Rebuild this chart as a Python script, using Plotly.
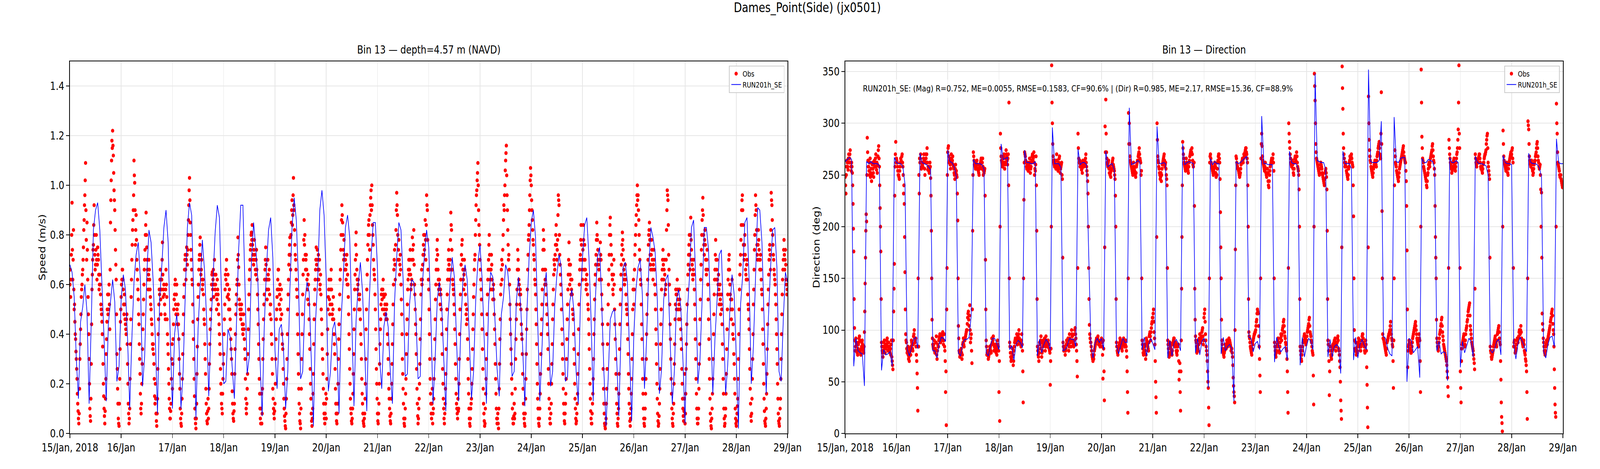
"""
Dames_Point(Side) (jx0501): Bin 13 流速/流向 观测 vs RUN201h_SE
"""
import pandas as pd
import plotly.graph_objects as go

# ==================== 数据 ====================

START = "2018-01-15 00:00"
END = "2018-01-29 00:00"

DAY_TICKS = [
    "2018-01-15", "2018-01-16", "2018-01-17", "2018-01-18", "2018-01-19",
    "2018-01-20", "2018-01-21", "2018-01-22", "2018-01-23", "2018-01-24",
    "2018-01-25", "2018-01-26", "2018-01-27", "2018-01-28", "2018-01-29",
]
DAY_LABELS = [
    "15/Jan, 2018", "16/Jan", "17/Jan", "18/Jan", "19/Jan", "20/Jan", "21/Jan",
    "22/Jan", "23/Jan", "24/Jan", "25/Jan", "26/Jan", "27/Jan", "28/Jan", "29/Jan",
]
SPEED_TICKS = [0.0, 0.2, 0.4, 0.6, 0.8, 1.0, 1.2, 1.4]
DIR_TICKS = [0, 50, 100, 150, 200, 250, 300, 350]

STATS_TEXT = ("RUN201h_SE: (Mag) R=0.752, ME=0.0055, RMSE=0.1583, CF=90.6% | "
              "(Dir) R=0.985, ME=2.17, RMSE=15.36, CF=88.9%")

# 模型：逐时
MODEL_SPEED = [
    0.68, 0.65, 0.55, 0.30, 0.14, 0.45, 0.51, 0.60, 0.49, 0.12, 0.45, 0.82, 0.90, 0.93, 0.82, 0.61, 0.38, 0.13, 0.44, 0.53, 0.62, 0.53, 0.21, 0.27,
    0.54, 0.64, 0.58, 0.38, 0.10, 0.38, 0.61, 0.72, 0.77, 0.62, 0.19, 0.31, 0.64, 0.82, 0.77, 0.61, 0.38, 0.08, 0.54, 0.67, 0.83, 0.90, 0.77, 0.38,
    0.10, 0.40, 0.48, 0.38, 0.10, 0.25, 0.56, 0.83, 0.93, 0.88, 0.54, 0.06, 0.42, 0.60, 0.78, 0.66, 0.46, 0.15, 0.42, 0.62, 0.81, 0.92, 0.87, 0.54,
    0.20, 0.21, 0.42, 0.39, 0.26, 0.14, 0.45, 0.74, 0.92, 0.92, 0.58, 0.24, 0.31, 0.69, 0.85, 0.75, 0.62, 0.30, 0.07, 0.43, 0.66, 0.82, 0.87, 0.71,
    0.34, 0.18, 0.42, 0.44, 0.34, 0.10, 0.25, 0.58, 0.83, 0.95, 0.86, 0.62, 0.22, 0.25, 0.53, 0.61, 0.57, 0.30, 0.03, 0.45, 0.62, 0.90, 0.98, 0.88,
    0.62, 0.17, 0.25, 0.42, 0.45, 0.35, 0.08, 0.46, 0.63, 0.83, 0.88, 0.79, 0.46, 0.11, 0.46, 0.60, 0.69, 0.57, 0.34, 0.09, 0.50, 0.71, 0.85, 0.85,
    0.66, 0.30, 0.18, 0.43, 0.49, 0.43, 0.25, 0.12, 0.53, 0.71, 0.85, 0.82, 0.62, 0.23, 0.24, 0.52, 0.62, 0.61, 0.48, 0.22, 0.23, 0.60, 0.72, 0.82,
    0.75, 0.46, 0.12, 0.30, 0.54, 0.61, 0.53, 0.30, 0.09, 0.46, 0.60, 0.71, 0.63, 0.38, 0.13, 0.42, 0.62, 0.68, 0.62, 0.38, 0.14, 0.25, 0.54, 0.69,
    0.76, 0.62, 0.38, 0.12, 0.52, 0.65, 0.63, 0.46, 0.26, 0.15, 0.48, 0.55, 0.68, 0.65, 0.54, 0.23, 0.25, 0.53, 0.63, 0.52, 0.34, 0.11, 0.50, 0.71,
    0.85, 0.90, 0.79, 0.46, 0.13, 0.34, 0.57, 0.65, 0.46, 0.19, 0.25, 0.52, 0.64, 0.72, 0.67, 0.46, 0.21, 0.23, 0.53, 0.58, 0.49, 0.25, 0.12, 0.53,
    0.71, 0.84, 0.87, 0.71, 0.46, 0.13, 0.54, 0.71, 0.75, 0.52, 0.25, 0.03, 0.22, 0.46, 0.49, 0.50, 0.30, 0.07, 0.40, 0.67, 0.69, 0.61, 0.34, 0.05,
    0.39, 0.58, 0.67, 0.70, 0.56, 0.18, 0.38, 0.66, 0.83, 0.79, 0.73, 0.54, 0.16, 0.26, 0.54, 0.62, 0.64, 0.38, 0.12, 0.25, 0.54, 0.58, 0.51, 0.30,
    0.04, 0.48, 0.62, 0.83, 0.86, 0.62, 0.20, 0.30, 0.54, 0.83, 0.83, 0.74, 0.46, 0.16, 0.38, 0.54, 0.72, 0.74, 0.46, 0.16, 0.28, 0.50, 0.64, 0.56,
    0.30, 0.02, 0.52, 0.64, 0.85, 0.87, 0.62, 0.20, 0.35, 0.62, 0.91, 0.90, 0.77, 0.46, 0.16, 0.46, 0.66, 0.82, 0.83, 0.67, 0.25, 0.21, 0.46, 0.65,
    0.61,
]

MODEL_DIR = [
    263, 265, 267, 265, 65, 92, 80, 78, 77, 46, 263, 261, 263, 261, 261, 261, 259, 61, 81, 76, 77, 79, 65, 267,
    262, 261, 261, 258, 241, 82, 75, 82, 91, 93, 82, 271, 262, 261, 260, 258, 255, 80, 80, 73, 87, 93, 92, 89,
    274, 263, 262, 258, 249, 78, 75, 87, 91, 91, 93, 114, 265, 261, 261, 261, 260, 256, 78, 75, 85, 92, 92, 87,
    81, 280, 265, 266, 267, 81, 85, 71, 86, 90, 88, 83, 274, 262, 262, 261, 261, 263, 75, 91, 78, 86, 91, 88,
    81, 296, 261, 261, 261, 257, 80, 81, 85, 92, 91, 91, 84, 275, 260, 262, 262, 260, 177, 88, 73, 88, 92, 88,
    92, 81, 273, 258, 260, 261, 255, 85, 77, 85, 92, 88, 88, 315, 260, 261, 262, 264, 262, 81, 93, 75, 86, 92,
    87, 81, 297, 261, 261, 262, 261, 73, 90, 75, 88, 91, 87, 80, 280, 260, 262, 263, 262, 261, 78, 92, 76, 89,
    92, 86, 44, 266, 260, 263, 261, 261, 77, 93, 80, 84, 86, 82, 31, 263, 261, 262, 264, 266, 268, 93, 92, 79,
    87, 89, 81, 307, 261, 261, 260, 260, 260, 69, 93, 84, 79, 82, 84, 71, 273, 262, 261, 261, 257, 66, 93, 74,
    85, 92, 89, 81, 348, 264, 263, 262, 262, 255, 74, 91, 74, 84, 86, 84, 58, 273, 261, 261, 261, 256, 71, 93,
    73, 86, 91, 85, 81, 352, 263, 262, 262, 262, 264, 302, 94, 92, 82, 77, 75, 306, 263, 262, 266, 267, 267, 50,
    92, 90, 78, 81, 84, 54, 266, 262, 262, 265, 264, 263, 256, 80, 89, 77, 79, 78, 51, 267, 262, 262, 264, 262,
    64, 89, 78, 85, 92, 89, 74, 268, 262, 261, 261, 260, 259, 250, 81, 78, 81, 89, 91, 76, 269, 262, 261, 261,
    260, 86, 72, 87, 93, 89, 84, 79, 271, 262, 261, 261, 260, 257, 248, 79, 73, 86, 93, 94, 84, 285, 262, 261,
    261,
]

# 观测 A：每 20 分钟（整点、:20、:40）
OBS_SPEED_A = [
    0.60, 0.55, 0.72, 0.93, 0.62, 0.82, 0.50, 0.45, 0.38, 0.30, 0.22, 0.12, 0.06, 0.08, 0.30, 0.42, 0.55, 0.60, 0.66, 0.75, 0.86, 0.96, 1.09, 0.78,
    0.85, 0.62, 0.48, 0.30, 0.10, 0.05, 0.28, 0.58, 0.70, 0.76, 0.92, 0.72, 0.68, 0.80, 0.62, 0.75, 0.70, 0.58, 0.64, 0.56, 0.50, 0.45, 0.35, 0.20,
    0.10, 0.04, 0.14, 0.32, 0.45, 0.56, 0.50, 0.60, 0.42, 0.85, 1.02, 1.18, 1.22, 1.12, 0.98, 0.90, 0.74, 0.62, 0.32, 0.18, 0.06, 0.03, 0.22, 0.45,
    0.55, 0.62, 0.66, 0.58, 0.48, 0.52, 0.44, 0.40, 0.48, 0.28, 0.12, 0.04, 0.10, 0.36, 0.55, 0.70, 0.82, 0.90, 1.10, 1.01, 0.76, 0.88, 0.70, 0.62,
    0.54, 0.44, 0.30, 0.16, 0.08, 0.20, 0.34, 0.48, 0.60, 0.70, 0.80, 0.89, 0.75, 0.66, 0.58, 0.70, 0.62, 0.55, 0.50, 0.44, 0.36, 0.36, 0.28, 0.15,
    0.20, 0.08, 0.03, 0.14, 0.40, 0.52, 0.56, 0.66, 0.48, 0.62, 0.77, 0.55, 0.60, 0.52, 0.46, 0.66, 0.55, 0.40, 0.32, 0.20, 0.10, 0.06, 0.12, 0.30,
    0.18, 0.38, 0.50, 0.56, 0.62, 0.48, 0.60, 0.44, 0.52, 0.38, 0.24, 0.10, 0.04, 0.08, 0.22, 0.40, 0.55, 0.66, 0.72, 0.62, 0.75, 0.68, 0.80, 0.92,
    1.03, 0.85, 0.74, 0.66, 0.60, 0.45, 0.30, 0.15, 0.06, 0.02, 0.12, 0.35, 0.55, 0.66, 0.72, 0.79, 0.64, 0.70, 0.58, 0.62, 0.50, 0.44, 0.30, 0.18,
    0.08, 0.04, 0.14, 0.10, 0.28, 0.42, 0.50, 0.60, 0.65, 0.62, 0.55, 0.70, 0.58, 0.64, 0.50, 0.62, 0.56, 0.48, 0.40, 0.32, 0.20, 0.12, 0.08, 0.22,
    0.32, 0.46, 0.58, 0.62, 0.70, 0.55, 0.64, 0.50, 0.58, 0.46, 0.38, 0.30, 0.17, 0.08, 0.05, 0.12, 0.34, 0.48, 0.56, 0.62, 0.79, 0.67, 0.54, 0.50,
    0.46, 0.52, 0.44, 0.40, 0.48, 0.38, 0.30, 0.14, 0.08, 0.18, 0.32, 0.50, 0.62, 0.70, 0.76, 0.81, 0.84, 0.72, 0.68, 0.78, 0.70, 0.64, 0.74, 0.62,
    0.50, 0.36, 0.22, 0.10, 0.04, 0.16, 0.08, 0.30, 0.46, 0.56, 0.66, 0.75, 0.62, 0.54, 0.70, 0.58, 0.66, 0.48, 0.52, 0.40, 0.30, 0.18, 0.10, 0.06,
    0.12, 0.30, 0.46, 0.55, 0.62, 0.66, 0.52, 0.60, 0.46, 0.58, 0.40, 0.34, 0.20, 0.10, 0.05, 0.02, 0.14, 0.30, 0.50, 0.62, 0.72, 0.79, 0.66, 0.85,
    0.94, 0.88, 1.03, 0.90, 0.76, 0.70, 0.62, 0.55, 0.40, 0.24, 0.12, 0.05, 0.02, 0.18, 0.40, 0.56, 0.70, 0.86, 0.80, 0.66, 0.72, 0.62, 0.54, 0.60,
    0.46, 0.34, 0.20, 0.08, 0.03, 0.10, 0.24, 0.46, 0.58, 0.66, 0.75, 0.70, 0.62, 0.72, 0.66, 0.58, 0.64, 0.50, 0.40, 0.30, 0.18, 0.08, 0.04, 0.12,
    0.06, 0.22, 0.42, 0.55, 0.62, 0.48, 0.58, 0.66, 0.52, 0.46, 0.55, 0.40, 0.32, 0.18, 0.08, 0.04, 0.12, 0.30, 0.44, 0.56, 0.66, 0.80, 0.92, 0.85,
    0.74, 0.78, 0.66, 0.70, 0.62, 0.72, 0.64, 0.55, 0.40, 0.26, 0.14, 0.08, 0.04, 0.10, 0.24, 0.42, 0.58, 0.70, 0.81, 0.66, 0.58, 0.62, 0.50, 0.56,
    0.46, 0.36, 0.22, 0.12, 0.05, 0.03, 0.08, 0.20, 0.42, 0.58, 0.70, 0.80, 0.86, 0.74, 0.92, 0.98, 1.00, 0.84, 0.76, 0.66, 0.62, 0.50, 0.34, 0.20,
    0.08, 0.04, 0.12, 0.28, 0.42, 0.52, 0.58, 0.50, 0.62, 0.55, 0.48, 0.56, 0.46, 0.52, 0.40, 0.30, 0.18, 0.10, 0.05, 0.08, 0.20, 0.36, 0.52, 0.66,
    0.74, 0.62, 0.82, 0.97, 0.88, 0.70, 0.78, 0.64, 0.72, 0.60, 0.48, 0.30, 0.18, 0.06, 0.03, 0.10, 0.22, 0.40, 0.52, 0.62, 0.70, 0.66, 0.74, 0.58,
    0.62, 0.79, 0.70, 0.82, 0.60, 0.50, 0.40, 0.26, 0.12, 0.04, 0.10, 0.20, 0.38, 0.56, 0.66, 0.62, 0.72, 0.80, 0.74, 0.86, 0.70, 0.96, 0.90, 0.66,
    0.58, 0.40, 0.22, 0.12, 0.06, 0.18, 0.08, 0.14, 0.30, 0.46, 0.60, 0.70, 0.78, 0.66, 0.58, 0.62, 0.52, 0.56, 0.46, 0.32, 0.20, 0.10, 0.04, 0.12,
    0.24, 0.42, 0.56, 0.66, 0.74, 0.62, 0.70, 0.89, 0.82, 0.66, 0.60, 0.56, 0.48, 0.36, 0.22, 0.12, 0.08, 0.14, 0.10, 0.30, 0.50, 0.62, 0.72, 0.78,
    0.66, 0.58, 0.70, 0.60, 0.52, 0.44, 0.46, 0.30, 0.16, 0.06, 0.03, 0.10, 0.14, 0.26, 0.42, 0.55, 0.66, 0.72, 0.86, 0.96, 1.02, 1.09, 0.90, 0.80,
    0.70, 0.62, 0.54, 0.42, 0.26, 0.12, 0.05, 0.04, 0.16, 0.30, 0.48, 0.62, 0.70, 0.80, 0.66, 0.58, 0.72, 0.62, 0.54, 0.60, 0.48, 0.36, 0.22, 0.10,
    0.04, 0.08, 0.02, 0.18, 0.38, 0.56, 0.66, 0.62, 0.74, 0.86, 0.90, 1.00, 1.10, 1.16, 0.96, 0.82, 0.70, 0.66, 0.52, 0.40, 0.28, 0.16, 0.06, 0.04,
    0.12, 0.08, 0.30, 0.46, 0.58, 0.74, 0.66, 0.60, 0.52, 0.56, 0.44, 0.38, 0.24, 0.12, 0.06, 0.03, 0.14, 0.32, 0.50, 0.66, 0.78, 0.84, 0.96, 1.07,
    1.00, 0.90, 0.82, 0.76, 0.70, 0.62, 0.56, 0.44, 0.28, 0.14, 0.06, 0.03, 0.10, 0.24, 0.40, 0.52, 0.66, 0.82, 0.74, 0.60, 0.66, 0.56, 0.48, 0.40,
    0.26, 0.14, 0.06, 0.04, 0.12, 0.28, 0.46, 0.58, 0.70, 0.66, 0.76, 0.84, 0.70, 0.78, 0.96, 0.92, 0.72, 0.64, 0.56, 0.42, 0.30, 0.18, 0.08, 0.04,
    0.12, 0.22, 0.38, 0.52, 0.64, 0.77, 0.60, 0.68, 0.56, 0.62, 0.50, 0.46, 0.34, 0.20, 0.10, 0.04, 0.08, 0.16, 0.32, 0.52, 0.66, 0.72, 0.84, 0.70,
    0.62, 0.84, 0.70, 0.76, 0.66, 0.58, 0.64, 0.56, 0.50, 0.40, 0.26, 0.14, 0.06, 0.04, 0.12, 0.22, 0.40, 0.54, 0.64, 0.72, 0.85, 0.78, 0.70, 0.66,
    0.62, 0.77, 0.70, 0.56, 0.44, 0.26, 0.12, 0.04, 0.02, 0.06, 0.18, 0.36, 0.52, 0.66, 0.80, 0.87, 0.76, 0.68, 0.62, 0.56, 0.70, 0.50, 0.38, 0.24,
    0.12, 0.04, 0.06, 0.16, 0.34, 0.52, 0.64, 0.72, 0.81, 0.74, 0.66, 0.60, 0.68, 0.56, 0.50, 0.44, 0.32, 0.18, 0.08, 0.03, 0.10, 0.22, 0.40, 0.58,
    0.52, 0.66, 0.76, 0.84, 0.92, 1.00, 0.96, 0.86, 0.74, 0.66, 0.60, 0.44, 0.30, 0.16, 0.06, 0.03, 0.10, 0.22, 0.40, 0.56, 0.70, 0.80, 0.85, 0.72,
    0.66, 0.78, 0.70, 0.62, 0.74, 0.66, 0.56, 0.42, 0.28, 0.14, 0.05, 0.04, 0.12, 0.26, 0.44, 0.58, 0.66, 0.74, 0.62, 0.70, 0.56, 0.60, 0.82, 0.98,
    0.94, 0.72, 0.60, 0.44, 0.30, 0.16, 0.06, 0.03, 0.12, 0.28, 0.46, 0.58, 0.50, 0.62, 0.54, 0.46, 0.58, 0.50, 0.42, 0.34, 0.20, 0.10, 0.05, 0.14,
    0.04, 0.16, 0.36, 0.52, 0.64, 0.72, 0.80, 0.66, 0.87, 0.74, 0.68, 0.62, 0.70, 0.58, 0.46, 0.30, 0.16, 0.06, 0.04, 0.10, 0.28, 0.46, 0.62, 0.74,
    0.86, 0.95, 0.80, 0.72, 0.82, 0.70, 0.64, 0.74, 0.60, 0.46, 0.30, 0.14, 0.05, 0.02, 0.10, 0.22, 0.40, 0.56, 0.66, 0.78, 0.62, 0.70, 0.56, 0.64,
    0.52, 0.60, 0.48, 0.56, 0.44, 0.30, 0.16, 0.06, 0.04, 0.10, 0.24, 0.42, 0.56, 0.66, 0.72, 0.60, 0.54, 0.46, 0.62, 0.40, 0.38, 0.28, 0.16, 0.06,
    0.03, 0.08, 0.14, 0.30, 0.50, 0.64, 0.72, 0.84, 0.94, 0.90, 0.76, 0.70, 0.80, 0.66, 0.62, 0.70, 0.56, 0.50, 0.42, 0.26, 0.12, 0.05, 0.14, 0.30,
    0.52, 0.66, 0.80, 0.96, 0.90, 0.76, 0.70, 0.82, 0.74, 0.66, 0.72, 0.62, 0.56, 0.42, 0.28, 0.14, 0.05, 0.03, 0.10, 0.24, 0.44, 0.58, 0.70, 0.76,
    0.66, 0.97, 0.92, 0.80, 0.72, 0.66, 0.62, 0.56, 0.46, 0.34, 0.20, 0.08, 0.04, 0.06, 0.14, 0.30, 0.48, 0.62, 0.70, 0.78, 0.66, 0.74, 0.62, 0.56,
]

# 观测 B：每 20 分钟（:10、:30、:50）
OBS_SPEED_B = [
    0.66, 0.62, 0.80, 0.74, 0.70, 0.58, 0.52, 0.40, 0.33, 0.26, 0.16, 0.09, 0.04, 0.18, 0.36, 0.48, 0.58, 0.64, 0.70, 0.82, 0.92, 1.02, 0.90, 0.70,
    0.74, 0.55, 0.40, 0.20, 0.07, 0.14, 0.44, 0.64, 0.74, 0.84, 0.80, 0.66, 0.74, 0.70, 0.68, 0.72, 0.64, 0.60, 0.60, 0.52, 0.48, 0.40, 0.28, 0.15,
    0.07, 0.09, 0.22, 0.38, 0.50, 0.48, 0.56, 0.52, 0.66, 0.94, 1.10, 1.15, 1.16, 1.05, 0.94, 0.82, 0.68, 0.48, 0.26, 0.12, 0.04, 0.12, 0.34, 0.50,
    0.60, 0.66, 0.62, 0.52, 0.56, 0.46, 0.42, 0.46, 0.36, 0.20, 0.08, 0.06, 0.22, 0.46, 0.62, 0.76, 0.86, 0.96, 1.04, 0.90, 0.82, 0.78, 0.66, 0.58,
    0.48, 0.36, 0.24, 0.10, 0.12, 0.28, 0.42, 0.54, 0.66, 0.74, 0.84, 0.80, 0.70, 0.62, 0.64, 0.66, 0.58, 0.52, 0.46, 0.40, 0.34, 0.32, 0.22, 0.12,
    0.14, 0.05, 0.08, 0.26, 0.46, 0.58, 0.62, 0.54, 0.58, 0.70, 0.64, 0.58, 0.56, 0.48, 0.58, 0.60, 0.46, 0.36, 0.26, 0.14, 0.06, 0.09, 0.22, 0.36,
    0.28, 0.44, 0.54, 0.60, 0.52, 0.56, 0.50, 0.48, 0.44, 0.30, 0.18, 0.06, 0.03, 0.14, 0.32, 0.48, 0.60, 0.70, 0.66, 0.70, 0.72, 0.74, 0.86, 0.98,
    0.94, 0.80, 0.70, 0.62, 0.52, 0.38, 0.22, 0.10, 0.04, 0.06, 0.24, 0.46, 0.60, 0.70, 0.76, 0.72, 0.66, 0.62, 0.60, 0.56, 0.46, 0.36, 0.24, 0.12,
    0.05, 0.09, 0.06, 0.18, 0.36, 0.46, 0.54, 0.64, 0.58, 0.66, 0.60, 0.64, 0.60, 0.56, 0.54, 0.58, 0.52, 0.44, 0.36, 0.26, 0.16, 0.10, 0.16, 0.28,
    0.40, 0.52, 0.64, 0.66, 0.60, 0.60, 0.56, 0.54, 0.50, 0.42, 0.34, 0.24, 0.12, 0.06, 0.09, 0.24, 0.40, 0.52, 0.60, 0.70, 0.72, 0.60, 0.52, 0.48,
    0.50, 0.48, 0.42, 0.44, 0.42, 0.34, 0.22, 0.10, 0.12, 0.24, 0.42, 0.56, 0.66, 0.74, 0.80, 0.78, 0.76, 0.70, 0.74, 0.72, 0.66, 0.70, 0.66, 0.56,
    0.44, 0.30, 0.16, 0.06, 0.10, 0.04, 0.18, 0.38, 0.52, 0.62, 0.70, 0.68, 0.58, 0.62, 0.64, 0.62, 0.56, 0.52, 0.46, 0.36, 0.24, 0.14, 0.08, 0.09,
    0.20, 0.38, 0.50, 0.58, 0.66, 0.58, 0.56, 0.50, 0.54, 0.48, 0.36, 0.26, 0.14, 0.07, 0.03, 0.08, 0.22, 0.40, 0.56, 0.68, 0.76, 0.72, 0.80, 0.90,
    0.84, 0.96, 0.92, 0.82, 0.72, 0.66, 0.58, 0.48, 0.32, 0.18, 0.08, 0.04, 0.10, 0.30, 0.48, 0.64, 0.78, 0.76, 0.72, 0.70, 0.66, 0.58, 0.64, 0.52,
    0.40, 0.26, 0.14, 0.05, 0.06, 0.16, 0.36, 0.52, 0.62, 0.70, 0.68, 0.74, 0.66, 0.62, 0.70, 0.60, 0.56, 0.46, 0.34, 0.24, 0.12, 0.06, 0.08, 0.16,
    0.14, 0.32, 0.50, 0.58, 0.54, 0.52, 0.62, 0.58, 0.48, 0.50, 0.46, 0.36, 0.26, 0.12, 0.05, 0.08, 0.20, 0.38, 0.50, 0.62, 0.74, 0.86, 0.88, 0.80,
    0.70, 0.72, 0.70, 0.66, 0.68, 0.60, 0.60, 0.48, 0.34, 0.20, 0.10, 0.05, 0.06, 0.16, 0.32, 0.50, 0.64, 0.76, 0.72, 0.62, 0.60, 0.56, 0.54, 0.50,
    0.40, 0.30, 0.16, 0.08, 0.04, 0.06, 0.14, 0.30, 0.50, 0.64, 0.76, 0.84, 0.80, 0.88, 0.95, 0.90, 0.92, 0.80, 0.70, 0.64, 0.56, 0.42, 0.26, 0.14,
    0.05, 0.08, 0.20, 0.36, 0.46, 0.56, 0.54, 0.58, 0.56, 0.50, 0.52, 0.48, 0.50, 0.46, 0.36, 0.24, 0.14, 0.07, 0.04, 0.14, 0.28, 0.44, 0.60, 0.70,
    0.68, 0.76, 0.90, 0.92, 0.80, 0.74, 0.70, 0.68, 0.66, 0.54, 0.40, 0.24, 0.12, 0.04, 0.06, 0.16, 0.32, 0.46, 0.58, 0.66, 0.64, 0.70, 0.64, 0.60,
    0.70, 0.74, 0.76, 0.68, 0.56, 0.44, 0.32, 0.18, 0.07, 0.06, 0.14, 0.28, 0.46, 0.62, 0.60, 0.68, 0.76, 0.72, 0.80, 0.78, 0.84, 0.92, 0.78, 0.62,
    0.50, 0.30, 0.16, 0.08, 0.12, 0.04, 0.10, 0.22, 0.38, 0.54, 0.66, 0.74, 0.72, 0.62, 0.60, 0.56, 0.58, 0.50, 0.40, 0.26, 0.14, 0.06, 0.08, 0.18,
    0.34, 0.50, 0.62, 0.70, 0.68, 0.66, 0.78, 0.84, 0.74, 0.62, 0.58, 0.52, 0.42, 0.28, 0.16, 0.10, 0.06, 0.09, 0.20, 0.40, 0.56, 0.68, 0.76, 0.70,
    0.62, 0.64, 0.66, 0.56, 0.48, 0.50, 0.38, 0.22, 0.10, 0.04, 0.06, 0.12, 0.20, 0.34, 0.48, 0.60, 0.70, 0.80, 0.92, 0.98, 1.05, 1.00, 0.84, 0.76,
    0.66, 0.58, 0.48, 0.34, 0.18, 0.08, 0.03, 0.10, 0.22, 0.40, 0.56, 0.66, 0.76, 0.72, 0.62, 0.66, 0.68, 0.58, 0.58, 0.54, 0.42, 0.28, 0.16, 0.06,
    0.06, 0.04, 0.10, 0.28, 0.46, 0.60, 0.70, 0.68, 0.80, 0.92, 0.96, 1.06, 1.13, 1.04, 0.90, 0.76, 0.72, 0.60, 0.46, 0.34, 0.22, 0.10, 0.04, 0.07,
    0.06, 0.18, 0.38, 0.52, 0.66, 0.70, 0.62, 0.56, 0.58, 0.50, 0.40, 0.32, 0.18, 0.08, 0.04, 0.08, 0.22, 0.42, 0.58, 0.72, 0.80, 0.90, 1.02, 1.04,
    0.94, 0.86, 0.78, 0.72, 0.66, 0.60, 0.50, 0.36, 0.20, 0.10, 0.04, 0.06, 0.16, 0.32, 0.46, 0.58, 0.74, 0.78, 0.66, 0.62, 0.60, 0.52, 0.44, 0.34,
    0.20, 0.10, 0.04, 0.08, 0.20, 0.36, 0.52, 0.64, 0.68, 0.72, 0.80, 0.76, 0.74, 0.88, 0.94, 0.80, 0.68, 0.60, 0.50, 0.36, 0.24, 0.12, 0.05, 0.08,
    0.16, 0.30, 0.46, 0.58, 0.70, 0.68, 0.64, 0.62, 0.58, 0.56, 0.48, 0.40, 0.28, 0.14, 0.06, 0.05, 0.12, 0.24, 0.42, 0.60, 0.70, 0.78, 0.76, 0.66,
    0.74, 0.78, 0.66, 0.70, 0.62, 0.60, 0.60, 0.52, 0.46, 0.34, 0.20, 0.09, 0.04, 0.08, 0.16, 0.30, 0.46, 0.60, 0.68, 0.78, 0.80, 0.74, 0.68, 0.62,
    0.70, 0.72, 0.62, 0.50, 0.36, 0.18, 0.08, 0.03, 0.04, 0.12, 0.26, 0.44, 0.60, 0.72, 0.84, 0.80, 0.72, 0.64, 0.58, 0.64, 0.60, 0.44, 0.30, 0.18,
    0.08, 0.03, 0.10, 0.24, 0.44, 0.58, 0.68, 0.76, 0.78, 0.70, 0.62, 0.64, 0.62, 0.52, 0.48, 0.38, 0.24, 0.12, 0.05, 0.06, 0.16, 0.30, 0.50, 0.62,
    0.58, 0.72, 0.80, 0.88, 0.96, 0.94, 0.90, 0.80, 0.70, 0.62, 0.52, 0.38, 0.22, 0.10, 0.04, 0.06, 0.16, 0.30, 0.48, 0.62, 0.76, 0.82, 0.78, 0.68,
    0.72, 0.74, 0.66, 0.68, 0.70, 0.60, 0.50, 0.36, 0.20, 0.08, 0.03, 0.07, 0.18, 0.36, 0.50, 0.62, 0.70, 0.68, 0.66, 0.64, 0.58, 0.70, 0.90, 0.96,
    0.84, 0.66, 0.52, 0.38, 0.22, 0.10, 0.04, 0.08, 0.20, 0.36, 0.52, 0.56, 0.56, 0.58, 0.50, 0.52, 0.54, 0.46, 0.38, 0.26, 0.14, 0.07, 0.09, 0.24,
    0.08, 0.26, 0.44, 0.58, 0.68, 0.76, 0.72, 0.80, 0.78, 0.70, 0.64, 0.66, 0.64, 0.52, 0.38, 0.22, 0.10, 0.04, 0.06, 0.18, 0.36, 0.54, 0.68, 0.80,
    0.90, 0.88, 0.76, 0.78, 0.76, 0.66, 0.70, 0.66, 0.54, 0.38, 0.22, 0.08, 0.03, 0.06, 0.16, 0.30, 0.48, 0.62, 0.72, 0.70, 0.66, 0.62, 0.60, 0.58,
    0.56, 0.54, 0.52, 0.50, 0.36, 0.22, 0.10, 0.03, 0.07, 0.16, 0.34, 0.50, 0.62, 0.70, 0.66, 0.56, 0.50, 0.54, 0.50, 0.44, 0.32, 0.22, 0.10, 0.04,
    0.05, 0.11, 0.22, 0.40, 0.58, 0.68, 0.78, 0.90, 0.96, 0.84, 0.72, 0.76, 0.72, 0.64, 0.68, 0.62, 0.52, 0.46, 0.34, 0.18, 0.07, 0.08, 0.22, 0.40,
    0.58, 0.74, 0.88, 0.92, 0.82, 0.72, 0.76, 0.78, 0.70, 0.70, 0.66, 0.58, 0.50, 0.36, 0.20, 0.09, 0.04, 0.06, 0.16, 0.34, 0.52, 0.64, 0.74, 0.72,
    0.82, 0.94, 0.86, 0.76, 0.70, 0.64, 0.60, 0.52, 0.40, 0.28, 0.14, 0.05, 0.03, 0.10, 0.22, 0.40, 0.56, 0.66, 0.74, 0.72, 0.70, 0.68, 0.60, 0.58,
]

OBS_DIR_A = [
    248, 232, 258, 262, 255, 270, 266, 274, 258, 262, 252, 222, 176, 102, 80, 92, 86, 78, 82, 88, 94, 80, 76, 84,
    90, 82, 78, 98, 145, 196, 205, 286, 264, 258, 250, 266, 252, 244, 260, 256, 248, 264, 262, 270, 255, 252, 268, 278,
    258, 218, 176, 88, 80, 74, 84, 90, 78, 82, 86, 92, 80, 88, 84, 78, 76, 90, 70, 62, 118, 164, 258, 282,
    266, 262, 254, 250, 246, 258, 266, 262, 270, 258, 232, 222, 156, 96, 88, 78, 84, 72, 70, 82, 76, 90, 86, 80,
    94, 100, 88, 92, 76, 58, 22, 84, 232, 262, 270, 256, 262, 258, 266, 264, 250, 270, 262, 276, 255, 258, 252, 262,
    247, 196, 110, 86, 82, 90, 78, 80, 94, 72, 86, 84, 92, 96, 88, 90, 94, 98, 86, 96, 80, 40, 8, 160,
    272, 278, 262, 266, 256, 270, 262, 268, 258, 252, 246, 260, 254, 248, 206, 104, 80, 74, 76, 82, 72, 86, 92, 84,
    90, 94, 98, 100, 112, 118, 104, 124, 88, 96, 68, 196, 272, 264, 262, 256, 258, 264, 260, 254, 250, 258, 262, 266,
    256, 266, 250, 252, 256, 168, 90, 76, 80, 72, 76, 84, 84, 78, 92, 88, 94, 80, 80, 86, 78, 76, 90, 84,
    40, 12, 290, 268, 262, 258, 266, 270, 256, 262, 274, 268, 260, 270, 320, 88, 78, 70, 74, 82, 66, 80, 88, 92,
    90, 96, 86, 92, 100, 88, 86, 84, 96, 80, 30, 226, 272, 268, 262, 256, 262, 254, 260, 266, 252, 258, 264, 270,
    266, 272, 250, 254, 268, 196, 84, 76, 70, 88, 82, 94, 74, 80, 90, 86, 92, 80, 94, 88, 84, 90, 86, 80,
    47, 82, 356, 300, 268, 262, 258, 264, 256, 270, 260, 254, 262, 268, 252, 258, 262, 246, 88, 80, 84, 76, 82, 90,
    86, 92, 80, 96, 90, 84, 100, 94, 88, 84, 96, 102, 92, 80, 55, 290, 266, 262, 258, 262, 255, 252, 264, 258,
    262, 260, 270, 258, 250, 232, 160, 105, 92, 88, 80, 74, 70, 72, 80, 84, 88, 92, 90, 94, 86, 88, 84, 90,
    92, 84, 53, 82, 32, 297, 323, 272, 262, 258, 264, 252, 250, 248, 256, 262, 266, 258, 254, 246, 200, 88, 80, 76,
    82, 86, 92, 90, 84, 80, 88, 92, 86, 84, 90, 80, 60, 20, 310, 300, 268, 262, 258, 254, 250, 262, 256, 252,
    248, 258, 262, 264, 270, 276, 266, 262, 254, 90, 82, 76, 80, 86, 72, 92, 88, 84, 80, 94, 98, 90, 102, 108,
    112, 120, 98, 86, 50, 20, 300, 268, 262, 256, 250, 248, 244, 256, 262, 266, 270, 258, 262, 250, 240, 90, 82, 74,
    88, 84, 80, 76, 86, 90, 92, 84, 88, 80, 76, 84, 86, 52, 68, 22, 90, 190, 282, 270, 262, 258, 254, 266,
    260, 256, 252, 262, 268, 272, 270, 276, 264, 258, 262, 140, 94, 88, 78, 84, 80, 90, 96, 88, 92, 98, 102, 86,
    112, 120, 96, 84, 76, 60, 44, 8, 262, 270, 262, 258, 254, 250, 256, 262, 258, 248, 250, 262, 268, 270, 262, 214,
    150, 90, 82, 78, 74, 80, 86, 82, 90, 84, 88, 92, 90, 86, 80, 82, 74, 54, 40, 30, 178, 268, 262, 258,
    256, 252, 248, 252, 260, 262, 266, 262, 270, 268, 274, 276, 270, 262, 200, 98, 92, 84, 80, 76, 88, 90, 94, 96,
    98, 104, 110, 120, 116, 94, 72, 40, 266, 290, 268, 262, 258, 254, 262, 252, 248, 256, 244, 238, 250, 258, 262, 266,
    262, 270, 254, 88, 80, 74, 80, 86, 92, 84, 78, 88, 96, 90, 100, 104, 110, 98, 92, 86, 80, 60, 20, 300,
    282, 270, 262, 258, 264, 256, 250, 262, 268, 264, 272, 262, 256, 250, 200, 84, 76, 70, 80, 88, 90, 96, 92, 86,
    90, 98, 102, 106, 112, 98, 94, 88, 80, 76, 28, 348, 322, 280, 266, 262, 258, 254, 250, 256, 262, 258, 252, 248,
    244, 240, 252, 256, 248, 196, 90, 80, 37, 84, 76, 72, 80, 86, 84, 90, 92, 80, 86, 88, 94, 82, 76, 64,
    32, 14, 355, 314, 276, 266, 258, 262, 254, 250, 246, 256, 262, 268, 266, 270, 262, 258, 210, 100, 82, 88, 76, 80,
    86, 92, 84, 90, 80, 86, 94, 96, 88, 84, 78, 90, 80, 47, 6, 326, 284, 268, 262, 256, 252, 248, 256, 260,
    264, 262, 258, 268, 272, 278, 282, 270, 266, 330, 215, 96, 92, 88, 84, 80, 76, 88, 90, 94, 96, 100, 108, 96,
    90, 84, 44, 150, 274, 262, 258, 252, 248, 244, 252, 258, 262, 266, 270, 274, 278, 268, 264, 262, 244, 177, 64, 84,
    90, 86, 80, 78, 84, 92, 96, 100, 104, 108, 100, 92, 88, 84, 96, 90, 40, 352, 287, 266, 262, 256, 252, 248,
    244, 238, 250, 256, 262, 258, 266, 270, 274, 280, 268, 262, 250, 190, 150, 92, 84, 80, 88, 96, 100, 106, 112, 98,
    90, 84, 80, 76, 72, 66, 54, 36, 284, 270, 262, 258, 252, 256, 262, 266, 260, 254, 262, 270, 276, 294, 356, 276,
    60, 30, 82, 88, 92, 96, 84, 90, 100, 104, 110, 118, 122, 126, 104, 96, 88, 84, 80, 72, 62, 270, 262, 258,
    264, 262, 268, 270, 262, 256, 258, 252, 260, 262, 268, 270, 274, 284, 290, 262, 254, 246, 84, 78, 72, 76, 80, 86,
    90, 94, 88, 84, 96, 100, 104, 92, 86, 52, 16, 2, 293, 268, 262, 258, 254, 262, 256, 250, 260, 264, 268, 272,
    270, 276, 262, 84, 90, 78, 80, 86, 92, 88, 94, 100, 96, 104, 92, 88, 84, 90, 80, 76, 70, 60, 14, 302,
    294, 268, 262, 258, 264, 256, 250, 256, 262, 264, 270, 276, 282, 268, 262, 256, 260, 236, 233, 116, 100, 88, 80, 76,
    84, 90, 86, 92, 96, 100, 104, 110, 116, 120, 106, 96, 62, 28, 16, 319, 290, 262, 258, 254, 248, 250, 244, 240,
]

OBS_DIR_B = [
    240, 250, 264, 258, 266, 262, 270, 262, 254, 258, 240, 198, 130, 90, 84, 88, 80, 76, 86, 92, 90, 78, 82, 88,
    86, 80, 84, 118, 170, 212, 250, 272, 258, 254, 262, 248, 256, 250, 262, 252, 260, 258, 266, 258, 262, 260, 274, 266,
    240, 200, 130, 84, 78, 80, 88, 82, 86, 84, 90, 88, 84, 82, 80, 82, 86, 74, 66, 90, 140, 230, 270, 262,
    264, 258, 250, 248, 254, 262, 264, 268, 262, 250, 240, 190, 120, 90, 82, 80, 76, 74, 78, 80, 84, 88, 82, 86,
    96, 92, 90, 84, 70, 44, 150, 250, 266, 266, 262, 258, 260, 262, 270, 256, 262, 266, 270, 262, 258, 254, 256, 258,
    230, 150, 92, 84, 86, 80, 82, 88, 76, 80, 84, 90, 94, 90, 92, 96, 92, 90, 90, 84, 70, 60, 120, 250,
    276, 268, 264, 260, 264, 266, 264, 260, 256, 250, 256, 252, 250, 232, 150, 92, 78, 76, 80, 78, 76, 88, 86, 90,
    92, 96, 100, 106, 116, 110, 114, 100, 92, 80, 120, 250, 268, 260, 258, 262, 256, 260, 256, 252, 256, 260, 264, 262,
    262, 258, 254, 254, 230, 120, 84, 78, 76, 74, 80, 82, 80, 86, 88, 90, 86, 84, 82, 80, 84, 82, 86, 80,
    70, 200, 276, 264, 260, 262, 268, 262, 260, 266, 270, 264, 266, 240, 150, 84, 74, 72, 78, 76, 70, 84, 90, 88,
    92, 90, 94, 96, 92, 90, 88, 90, 86, 60, 150, 262, 270, 264, 258, 260, 258, 256, 262, 258, 256, 262, 268, 264,
    268, 262, 256, 260, 240, 130, 80, 74, 78, 86, 90, 88, 78, 84, 86, 88, 86, 84, 90, 86, 88, 86, 82, 78,
    70, 200, 320, 280, 264, 260, 262, 258, 260, 264, 256, 258, 266, 260, 256, 260, 250, 170, 84, 82, 80, 80, 86, 88,
    90, 86, 84, 92, 88, 90, 96, 90, 86, 90, 100, 96, 86, 70, 160, 276, 262, 264, 260, 258, 256, 258, 260, 262,
    264, 266, 262, 254, 244, 200, 130, 96, 88, 84, 76, 72, 74, 76, 82, 86, 90, 90, 92, 90, 88, 86, 88, 90,
    88, 76, 90, 60, 180, 272, 290, 266, 260, 262, 256, 258, 252, 254, 260, 264, 260, 256, 250, 230, 130, 84, 78, 80,
    84, 88, 90, 86, 82, 86, 90, 88, 84, 86, 84, 74, 40, 150, 280, 280, 264, 260, 256, 252, 256, 258, 254, 250,
    252, 260, 264, 268, 272, 270, 264, 250, 150, 86, 78, 78, 84, 80, 76, 90, 86, 82, 88, 96, 94, 98, 106, 112,
    116, 108, 92, 70, 35, 190, 284, 264, 258, 252, 246, 252, 250, 260, 264, 268, 264, 260, 256, 246, 160, 86, 78, 76,
    86, 82, 78, 80, 88, 92, 88, 86, 84, 78, 80, 86, 70, 60, 40, 60, 140, 240, 276, 266, 260, 256, 260, 262,
    258, 254, 258, 264, 270, 274, 272, 270, 260, 262, 220, 110, 90, 84, 80, 82, 86, 92, 92, 90, 94, 100, 94, 90,
    116, 108, 90, 80, 70, 50, 25, 150, 268, 266, 260, 256, 252, 254, 258, 260, 252, 250, 256, 264, 270, 266, 246, 180,
    110, 86, 80, 76, 78, 82, 84, 86, 88, 86, 90, 90, 88, 84, 82, 78, 66, 46, 36, 100, 240, 266, 260, 256,
    254, 250, 250, 256, 262, 264, 264, 266, 268, 272, 276, 272, 266, 240, 130, 94, 88, 82, 78, 82, 86, 92, 96, 98,
    100, 108, 116, 118, 104, 84, 56, 150, 280, 278, 264, 260, 256, 258, 256, 250, 252, 252, 240, 244, 254, 260, 264, 264,
    266, 262, 150, 84, 76, 78, 84, 90, 88, 80, 84, 92, 94, 96, 102, 108, 104, 94, 88, 82, 72, 40, 160, 290,
    276, 266, 260, 260, 260, 252, 256, 266, 266, 268, 268, 258, 254, 236, 130, 80, 72, 76, 84, 90, 94, 94, 88, 88,
    94, 100, 104, 110, 104, 96, 90, 84, 78, 56, 200, 336, 300, 272, 264, 260, 256, 252, 252, 260, 260, 256, 250, 246,
    242, 246, 254, 252, 236, 130, 86, 70, 60, 80, 74, 76, 84, 82, 88, 90, 86, 84, 88, 92, 90, 80, 70, 50,
    22, 180, 334, 290, 270, 262, 260, 258, 252, 248, 250, 258, 264, 266, 268, 266, 260, 240, 150, 90, 80, 82, 78, 84,
    88, 90, 86, 84, 84, 90, 96, 92, 86, 80, 84, 86, 64, 25, 180, 300, 274, 264, 258, 254, 250, 252, 258, 262,
    262, 260, 264, 270, 276, 280, 276, 268, 290, 280, 150, 92, 90, 86, 82, 78, 82, 90, 92, 96, 98, 104, 100, 92,
    86, 70, 90, 240, 268, 260, 254, 250, 246, 248, 256, 260, 264, 268, 272, 276, 272, 266, 262, 254, 220, 120, 80, 86,
    88, 82, 78, 80, 88, 94, 98, 102, 106, 104, 96, 90, 86, 90, 92, 70, 200, 320, 276, 264, 258, 254, 250, 246,
    240, 244, 252, 260, 260, 262, 268, 272, 278, 274, 264, 256, 220, 170, 110, 88, 82, 84, 92, 98, 104, 110, 104, 94,
    86, 82, 78, 74, 70, 60, 45, 160, 276, 266, 260, 256, 254, 258, 264, 262, 256, 258, 266, 272, 284, 320, 290, 160,
    44, 70, 86, 90, 94, 90, 86, 96, 102, 108, 114, 120, 124, 114, 100, 92, 86, 82, 76, 68, 140, 266, 260, 262,
    262, 266, 270, 266, 258, 256, 254, 256, 262, 266, 270, 272, 280, 288, 276, 258, 250, 170, 80, 74, 74, 78, 84, 88,
    92, 90, 86, 90, 98, 102, 98, 88, 70, 30, 10, 200, 280, 264, 260, 256, 258, 260, 252, 256, 262, 266, 270, 268,
    274, 266, 160, 88, 84, 80, 82, 90, 90, 92, 98, 98, 100, 98, 90, 86, 88, 86, 78, 72, 66, 40, 150, 298,
    280, 264, 260, 262, 260, 254, 252, 260, 264, 268, 272, 280, 276, 264, 258, 258, 250, 200, 170, 106, 92, 84, 78, 80,
    86, 88, 90, 94, 98, 102, 108, 112, 118, 114, 100, 84, 44, 20, 200, 300, 272, 260, 256, 250, 250, 246, 242, 238,
]

# ==================== 样式常量 ====================

FONT = "DejaVu Sans"
COLOR_OBS = "red"
COLOR_MODEL = "blue"
COLOR_GRID = "#e6e6e6"
FIG_W, FIG_H = 5000, 1200

# 轴区域（像素 -> 比例）
LEFT_DOMAIN = [133 / FIG_W, 2437 / FIG_W]
RIGHT_DOMAIN = [2622 / FIG_W, 4926 / FIG_W]
Y_DOMAIN = [1 - 1125 / FIG_H, 1 - 159 / FIG_H]


def obs_times(n, offset):
    return pd.date_range(pd.Timestamp(START) + pd.Timedelta(minutes=offset), periods=n, freq="20min")


model_time = pd.date_range(START, periods=len(MODEL_SPEED), freq="h")
speed_time = list(obs_times(len(OBS_SPEED_A), 0)) + list(obs_times(len(OBS_SPEED_B), 10))
speed_vals = OBS_SPEED_A + OBS_SPEED_B
dir_time = list(obs_times(len(OBS_DIR_A), 0)) + list(obs_times(len(OBS_DIR_B), 10))
dir_vals = OBS_DIR_A + OBS_DIR_B


def x_axis(domain, anchor):
    return dict(
        domain=domain, anchor=anchor, type="date", range=[START, END],
        tickvals=DAY_TICKS, ticktext=DAY_LABELS,
        ticks="outside", ticklen=10, tickwidth=2, tickcolor="black",
        tickfont=dict(size=28, color="black", family=FONT),
        showline=True, linecolor="black", linewidth=2, mirror=True,
        showgrid=True, gridcolor=COLOR_GRID, gridwidth=2, zeroline=False,
    )


def y_axis(domain, anchor, rng, tickvals, fmt):
    return dict(
        domain=domain, anchor=anchor, range=rng, tickvals=tickvals, tickformat=fmt,
        ticks="outside", ticklen=10, tickwidth=2, tickcolor="black",
        tickfont=dict(size=28, color="black", family=FONT),
        showline=True, linecolor="black", linewidth=2, mirror=True,
        showgrid=True, gridcolor=COLOR_GRID, gridwidth=2, zeroline=False,
    )


def legend_box(x):
    return dict(
        x=x, y=1 - 170 / FIG_H, xanchor="right", yanchor="top",
        bgcolor="rgba(255,255,255,0.8)", bordercolor="#cccccc", borderwidth=2,
        font=dict(size=19, family=FONT, color="black"),
    )


fig = go.Figure()

# 左：流速
fig.add_trace(go.Scatter(
    x=speed_time, y=speed_vals, mode="markers", name="Obs",
    marker=dict(color=COLOR_OBS, size=10, line=dict(width=0)),
    xaxis="x", yaxis="y", legend="legend",
))
fig.add_trace(go.Scatter(
    x=model_time, y=MODEL_SPEED, mode="lines", name="RUN201h_SE",
    line=dict(color=COLOR_MODEL, width=2),
    xaxis="x", yaxis="y", legend="legend",
))

# 右：流向
fig.add_trace(go.Scatter(
    x=dir_time, y=dir_vals, mode="markers", name="Obs",
    marker=dict(color=COLOR_OBS, size=10, line=dict(width=0)),
    xaxis="x2", yaxis="y2", legend="legend2",
))
fig.add_trace(go.Scatter(
    x=model_time, y=MODEL_DIR, mode="lines", name="RUN201h_SE",
    line=dict(color=COLOR_MODEL, width=2),
    xaxis="x2", yaxis="y2", legend="legend2",
))

annotations = [
    dict(text="Dames_Point(Side) (jx0501)", x=0.5, y=1 - 20 / FIG_H,
         xanchor="center", yanchor="middle", font=dict(size=33)),
    dict(text="Bin 13 — depth=4.57 m (NAVD)", x=sum(LEFT_DOMAIN) / 2, y=1 - 148 / FIG_H,
         xanchor="center", yanchor="bottom", font=dict(size=28)),
    dict(text="Bin 13 — Direction", x=sum(RIGHT_DOMAIN) / 2, y=1 - 148 / FIG_H,
         xanchor="center", yanchor="bottom", font=dict(size=28)),
    dict(text="Speed (m/s)", x=45 / FIG_W, y=sum(Y_DOMAIN) / 2, textangle=-90,
         xanchor="center", yanchor="middle", font=dict(size=28)),
    dict(text="Direction (deg)", x=2530 / FIG_W, y=sum(Y_DOMAIN) / 2, textangle=-90,
         xanchor="center", yanchor="middle", font=dict(size=28)),
    dict(text=STATS_TEXT, x=2667 / FIG_W, y=1 - 230 / FIG_H,
         xanchor="left", yanchor="middle", font=dict(size=22),
         bgcolor="rgba(255,255,255,0.6)", borderpad=10),
]
for a in annotations:
    a.update(xref="paper", yref="paper", showarrow=False)
    a["font"].update(family=FONT, color="black")

fig.update_layout(
    width=FIG_W, height=FIG_H,
    margin=dict(l=0, r=0, t=0, b=0),
    paper_bgcolor="white", plot_bgcolor="white",
    font=dict(family=FONT, color="black"),
    xaxis=x_axis(LEFT_DOMAIN, "y"),
    yaxis=y_axis(Y_DOMAIN, "x", [0, 1.5], SPEED_TICKS, ".1f"),
    xaxis2=x_axis(RIGHT_DOMAIN, "y2"),
    yaxis2=y_axis(Y_DOMAIN, "x2", [0, 360], DIR_TICKS, "d"),
    legend=legend_box(2427 / FIG_W),
    legend2=legend_box(4916 / FIG_W),
    annotations=annotations,
    showlegend=True,
)

# 视口与 5000x1200 不一致时，把整张图缩放到刚好铺满窗口
FIT_JS = (
    "var gd = document.getElementById('{plot_id}');"
    "var sx = Math.min(1, window.innerWidth / " + str(FIG_W) + ");"
    "var sy = Math.min(1, window.innerHeight / " + str(FIG_H) + ");"
    "document.documentElement.style.overflow = 'hidden';"
    "document.body.style.margin = '0';"
    "document.body.style.overflow = 'hidden';"
    "gd.style.transformOrigin = '0 0';"
    "gd.style.transform = 'scale(' + sx + ',' + sy + ')';"
)

fig.write_html("out.html", post_script=FIT_JS, config={"displayModeBar": False})
